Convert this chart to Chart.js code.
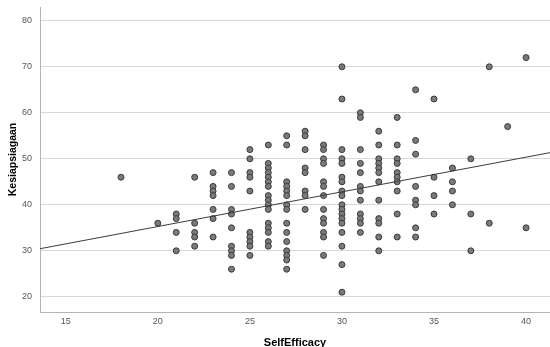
<!DOCTYPE html>
<html>
<head>
<meta charset="utf-8">
<script src="https://cdn.jsdelivr.net/npm/chart.js@4"></script>
<style>
  html, body { margin: 0; padding: 0; background: #fff; overflow: hidden; }
</style>
</head>
<body>
<canvas id="myChart1" width="550" height="347"></canvas>
<script>
// SelfEfficacy (x) dan Kesiapsiagaan (y), dibaca per kolom dari gambar
const selfEfficacy = [18, 20, 21, 22, 23, 24, 25, 26, 27, 28, 29, 30, 31, 32, 33, 34, 35, 36, 37, 38, 39, 40];
const kesiapsiagaan = [
  [46],
  [36],
  [38, 37, 34, 30],
  [46, 36, 34, 33, 31],
  [47, 44, 43, 42, 39, 37, 33],
  [47, 44, 39, 38, 35, 31, 30, 29, 26],
  [52, 50, 47, 46, 43, 34, 33, 32, 31, 29],
  [53, 49, 48, 47, 46, 45, 44, 42, 41, 40, 39, 36, 35, 34, 32, 31],
  [55, 53, 45, 44, 43, 42, 40, 39, 36, 34, 32, 30, 29, 28, 26],
  [56, 55, 52, 48, 47, 43, 42, 39],
  [53, 52, 50, 49, 45, 44, 42, 39, 37, 36, 34, 33, 29],
  [70, 63, 52, 50, 49, 46, 45, 43, 42, 40, 39, 38, 37, 36, 34, 31, 27, 21],
  [60, 59, 52, 49, 47, 44, 43, 41, 38, 37, 36, 34],
  [56, 53, 50, 49, 48, 47, 45, 41, 37, 36, 33, 30],
  [59, 53, 50, 49, 47, 46, 45, 43, 38, 33],
  [65, 54, 51, 44, 41, 40, 35, 33],
  [63, 46, 42, 38],
  [48, 45, 43, 40],
  [50, 38, 30],
  [70, 36],
  [57],
  [72, 35]
];

// garis regresi
const fitIntercept = 20.2;
const fitSlope = 0.754;

const xRange = [13.6, 41.3];
const yRange = [16.7, 83];
const xTicks = [15, 20, 25, 30, 35, 40];
const yTicks = [20, 30, 40, 50, 60, 70, 80];

let points = [];
for (i = 0; i < selfEfficacy.length; i++) {
  for (j = 0; j < kesiapsiagaan[i].length; j++) {
    points.push({ x: selfEfficacy[i], y: kesiapsiagaan[i][j] });
  }
}

let fitLine = [];
for (i = 0; i < xRange.length; i++) {
  fitLine.push({ x: xRange[i], y: fitIntercept + fitSlope * xRange[i] });
}

const ctx = document.getElementById("myChart1");

new Chart(ctx, {
  type: "scatter",
  data: {
    datasets: [
      {
        label: "Fit",
        type: "line",
        data: fitLine,
        borderColor: "#3c3c3c",
        borderWidth: 1,
        pointRadius: 0,
        fill: false,
      },
      {
        label: "Kesiapsiagaan",
        data: points,
        pointRadius: 3,
        borderWidth: 1,
        backgroundColor: "#7a7a7a",
        borderColor: "#3a3a3a",
      },
    ],
  },
  options: {
    responsive: false,
    animation: false,
    layout: {
      autoPadding: false,
      padding: { top: 7, right: 0, left: 0, bottom: 0 },
    },
    scales: {
      x: {
        type: "linear",
        min: xRange[0],
        max: xRange[1],
        afterBuildTicks: function (scale) {
          scale.ticks = xTicks.map(function (v) { return { value: v }; });
        },
        afterFit: function (scale) {
          scale.height = 35;
          scale.paddingLeft = 0;
          scale.paddingRight = 0;
        },
        grid: { display: false, drawTicks: false },
        border: { display: true, color: "#b4b4b4", width: 1 },
        ticks: {
          color: "#555",
          padding: 4,
          maxRotation: 0,
          font: { size: 9, family: "Liberation Sans" },
        },
        title: {
          display: true,
          text: "SelfEfficacy",
          color: "#000",
          padding: { top: 0, bottom: -1 },
          font: { size: 11, weight: "bold", family: "Liberation Sans", lineHeight: 1 },
        },
      },
      y: {
        type: "linear",
        min: yRange[0],
        max: yRange[1],
        afterBuildTicks: function (scale) {
          scale.ticks = yTicks.map(function (v) { return { value: v }; });
        },
        afterFit: function (scale) {
          scale.width = 40;
          scale.paddingTop = 0;
          scale.paddingBottom = 0;
        },
        grid: { color: "#d9d9d9", drawTicks: false },
        border: { display: true, color: "#b4b4b4", width: 1 },
        ticks: {
          color: "#555",
          padding: 8,
          font: { size: 9, family: "Liberation Sans" },
        },
        title: {
          display: true,
          text: "Kesiapsiagaan",
          color: "#000",
          padding: { top: 8.25, bottom: 0 },
          font: { size: 10.5, weight: "bold", family: "Liberation Sans", lineHeight: 1 },
        },
      },
    },
    plugins: {
      legend: { display: false },
      tooltip: { enabled: false },
    },
  },
});
</script>
</body>
</html>
